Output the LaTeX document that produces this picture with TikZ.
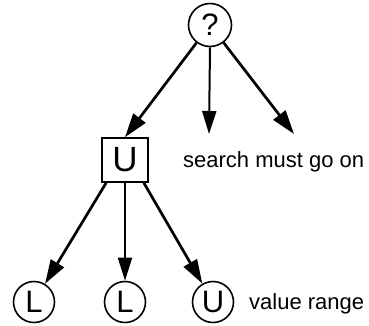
\documentclass[tikz,border=0pt]{standalone}
\usepackage{fontspec}
\setmainfont{Liberation Sans}
\usetikzlibrary{arrows.meta}
\begin{document}
\begin{tikzpicture}[x=1pt,y=-1pt,
  state/.style={circle,draw,line width=1.6pt,minimum size=41pt,inner sep=0pt,font=\fontsize{31}{31}\selectfont},
  boxstate/.style={rectangle,draw,line width=1.6pt,minimum width=46pt,minimum height=44pt,inner sep=0pt,font=\fontsize{35}{35}\selectfont},
  lbl/.style={anchor=base west,inner sep=0pt,font=\fontsize{22}{22}\selectfont},
  edge/.style={line width=2.7pt,-{Triangle[length=24pt,width=15pt]}},
  vedge/.style={line width=2pt,-{Triangle[length=23pt,width=14pt]}}]
\useasboundingbox (0,0) rectangle (369,325);
% tree nodes
\node[state,minimum size=43pt] (q) at (210,25) {?};
\node[boxstate] (u) at (125,160) {U};
\node[state] (l1) at (34,302) {L};
\node[state] (l2) at (125,302) {L};
\node[state] (u2) at (213,302) {U};
% labels
\node[lbl] (s) at (183,167) {search must go on};
\node[lbl] (vr) at (249,309) {value range};
% free ends of the open branches
\coordinate (m) at (209,134);
\coordinate (r) at (294,134);
% connectors
\draw[edge] (q) -- (u.north);
\draw[vedge] (q.south) -- (m);
\draw[edge] (q) -- (r);
\draw[edge] ([xshift=5pt]u.south west) -- (l1);
\draw[vedge] (u.south) -- (l2);
\draw[edge] ([xshift=-5pt]u.south east) -- (u2);
\end{tikzpicture}
\end{document}
